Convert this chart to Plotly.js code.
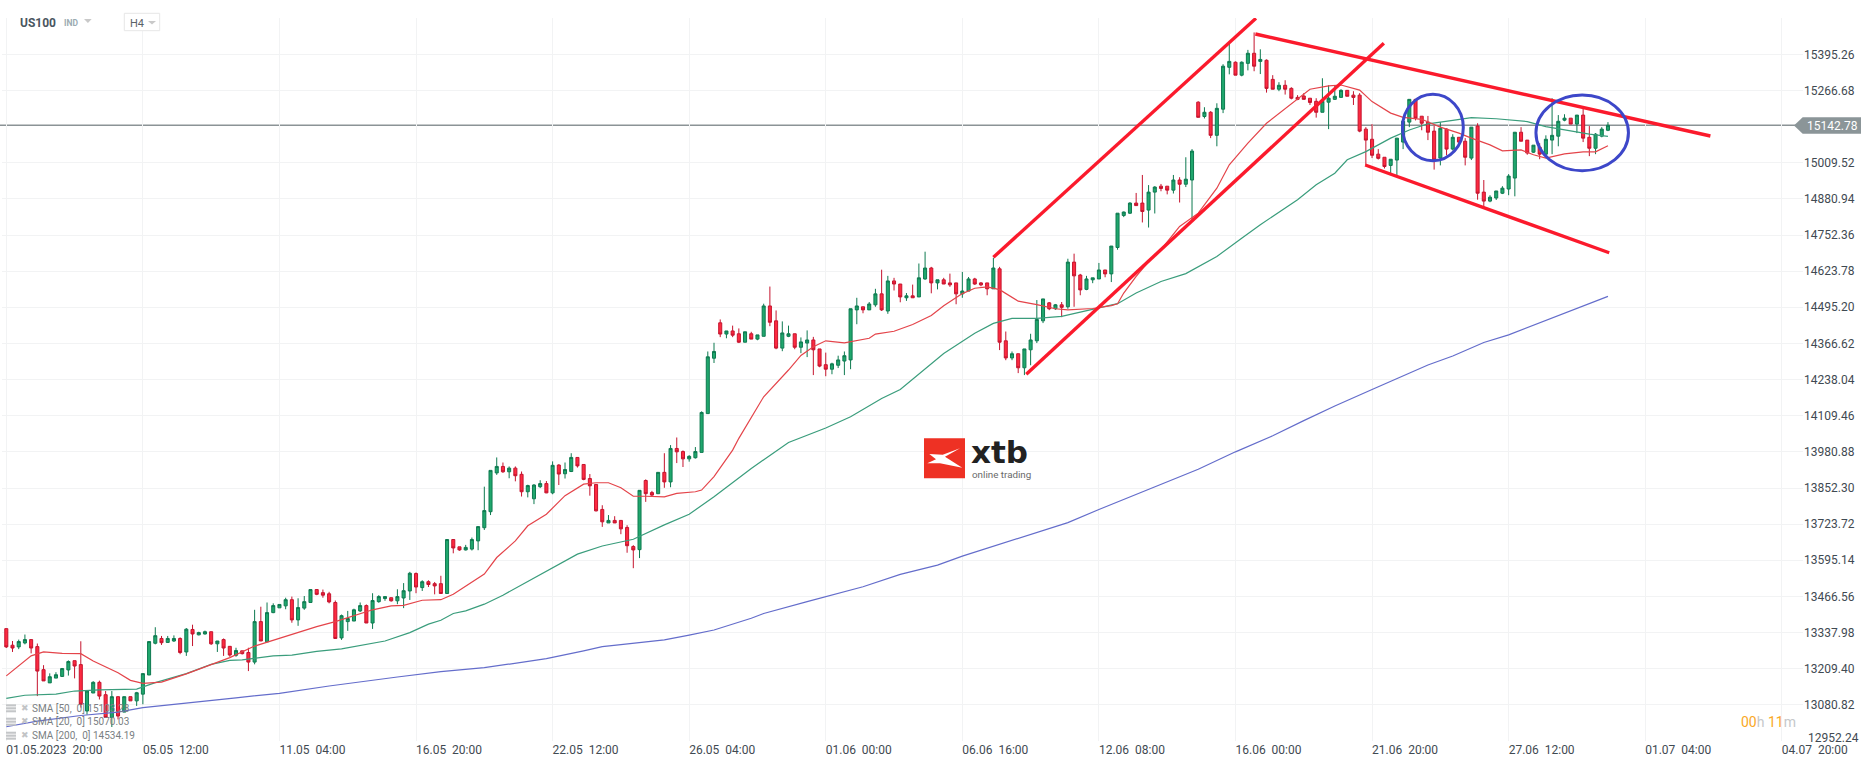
<!DOCTYPE html>
<html>
<head>
<meta charset="utf-8">
<script src="https://cdn.plot.ly/plotly-3.0.1.min.js"></script>
<style>html,body{margin:0;padding:0;background:#fff}#chart{width:1866px;height:767px}</style>
</head>
<body>
<div id="chart"></div>
<script>
const openPrices = [
13352,13293,13287,13301,13313,13288,13206,13159,13176,13182,
13205,13238,13224,13059,13123,13161,13117,13036,13110,13055,
13110,13095,13119,13187,13300,13317,13303,13308,13317,13269,
13349,13330,13333,13341,13298,13313,13289,13257,13273,13267,
13233,13377,13305,13409,13426,13433,13455,13383,13425,13445,
13491,13480,13476,13445,13319,13377,13379,13415,13434,13372,
13448,13459,13462,13451,13461,13486,13548,13498,13519,13512,
13512,13477,13669,13643,13632,13635,13664,13711,13768,13906,
13929,13910,13923,13901,13839,13814,13857,13868,13835,13934,
13903,13911,13961,13936,13886,13865,13776,13728,13737,13737,
13712,13644,13633,13879,13836,13832,13908,13874,13993,13982,
13956,13960,13979,14117,14314,14440,14400,14411,14401,14371,
14401,14382,14392,14500,14447,14350,14392,14401,14353,14368,
14379,14347,14291,14275,14289,14304,14308,14486,14497,14486,
14504,14543,14482,14589,14578,14529,14536,14532,14596,14635,
14582,14593,14582,14582,14543,14553,14596,14582,14582,14561,
14632,14376,14315,14330,14280,14344,14376,14447,14511,14490,
14504,14497,14656,14610,14559,14593,14596,14628,14614,14708,
14822,14830,14866,14866,14841,14905,14926,14926,14912,14948,
14933,14948,15225,15174,15189,15107,15200,15349,15367,15321,
15363,15399,15370,15374,15306,15271,15285,15274,15242,15247,
15239,15228,15189,15225,15235,15242,15267,15250,15250,15129,
15093,15040,15029,15000,15019,15083,15154,15235,15175,15154,
15122,15026,15129,15058,15100,15086,15026,15140,14905,14873,
14884,14901,14916,14955,15118,15090,15047,15065,15040,15090,
15104,15161,15168,15147,15179,15100,15061,15104,15125];
const highPrices = [
13352,13308,13313,13331,13313,13299,13222,13193,13197,13212,
13239,13238,13307,13130,13165,13167,13130,13130,13110,13110,
13110,13127,13192,13306,13357,13326,13326,13328,13321,13354,
13366,13341,13345,13341,13308,13317,13290,13284,13273,13284,
13419,13430,13445,13442,13438,13462,13466,13460,13468,13491,
13491,13491,13483,13452,13402,13415,13423,13445,13438,13478,
13471,13466,13462,13492,13514,13554,13552,13524,13524,13518,
13540,13669,13669,13643,13650,13676,13715,13857,13915,13961,
13943,13929,13929,13911,13864,13866,13880,13877,13947,13937,
13943,13976,13961,13936,13902,13865,13791,13756,13752,13737,
13720,13649,13844,13883,13842,13908,13976,14005,14032,13986,
13969,13998,14125,14338,14369,14452,14411,14430,14420,14408,
14408,14397,14508,14569,14484,14445,14430,14401,14388,14413,
14390,14347,14334,14298,14323,14338,14490,14529,14497,14514,
14561,14629,14607,14600,14578,14546,14576,14651,14693,14639,
14593,14600,14615,14582,14621,14603,14600,14585,14582,14671,
14639,14409,14338,14330,14347,14401,14521,14525,14514,14507,
14514,14668,14686,14614,14607,14600,14653,14628,14713,14830,
14836,14869,14902,14966,14930,14926,14934,14926,14966,14958,
15029,15058,15228,15207,15193,15221,15360,15434,15370,15370,
15411,15473,15413,15377,15321,15296,15303,15278,15250,15257,
15239,15239,15310,15285,15285,15271,15267,15264,15257,15136,
15147,15058,15029,15022,15097,15157,15235,15235,15175,15176,
15141,15154,15132,15111,15100,15097,15136,15150,14948,14894,
14909,14926,14969,15118,15136,15090,15072,15079,15107,15239,
15179,15182,15168,15179,15207,15140,15115,15136,15154];
const lowPrices = [
13283,13269,13279,13296,13264,13112,13166,13159,13176,13180,
13185,13175,13071,13046,13123,13100,13035,13002,13029,13055,
13095,13077,13083,13187,13296,13294,13302,13305,13261,13255,
13290,13328,13331,13294,13269,13255,13252,13252,13260,13201,
13225,13308,13305,13407,13426,13421,13373,13362,13419,13445,
13471,13462,13442,13317,13312,13344,13379,13411,13372,13351,
13444,13451,13448,13439,13425,13454,13478,13486,13500,13474,
13477,13477,13620,13629,13630,13630,13631,13703,13756,13899,
13906,13887,13876,13822,13819,13795,13852,13834,13830,13863,
13886,13909,13925,13880,13825,13769,13714,13728,13728,13688,
13622,13567,13603,13803,13822,13832,13853,13855,13941,13927,
13946,13957,13979,14117,14297,14389,14385,14389,14368,14371,
14382,14378,14392,14428,14346,14339,14389,14346,14332,14318,
14254,14282,14250,14257,14279,14254,14275,14435,14474,14486,
14497,14482,14472,14555,14513,14518,14529,14532,14593,14545,
14559,14578,14568,14506,14529,14553,14575,14570,14538,14561,
14343,14307,14307,14261,14254,14289,14368,14439,14485,14486,
14460,14490,14497,14538,14556,14581,14596,14602,14585,14700,
14816,14827,14857,14797,14779,14829,14908,14897,14900,14868,
14923,14807,15171,15167,15097,15068,15186,15324,15321,15317,
15338,15335,15325,15259,15271,15264,15252,15235,15232,15235,
15215,15170,15189,15129,15233,15242,15246,15215,15118,15001,
15026,15021,14989,14972,14965,15058,15136,15160,15125,15090,
14985,15000,15036,15053,15079,15000,15019,14878,14853,14869,
14877,14898,14894,14890,15086,15038,15044,15022,15036,15040,
15068,15157,15147,15115,15083,15033,15040,15100,15122];
const closePrices = [
13287,13283,13306,13313,13283,13201,13166,13181,13188,13210,
13235,13219,13083,13130,13161,13112,13036,13110,13041,13110,
13095,13124,13192,13306,13327,13302,13317,13317,13267,13350,
13333,13338,13341,13298,13308,13283,13258,13274,13263,13233,
13377,13308,13409,13434,13438,13455,13383,13427,13448,13491,
13474,13471,13447,13317,13398,13388,13419,13434,13372,13452,
13466,13466,13451,13466,13487,13549,13500,13519,13509,13504,
13477,13669,13639,13632,13641,13669,13715,13772,13915,13929,
13910,13923,13896,13839,13861,13863,13868,13835,13933,13902,
13918,13961,13931,13883,13860,13771,13732,13737,13728,13707,
13647,13632,13844,13832,13827,13908,13874,13993,13981,13956,
13965,13982,14121,14319,14338,14400,14411,14396,14371,14408,
14382,14397,14500,14442,14350,14404,14401,14353,14372,14379,
14344,14286,14275,14294,14308,14323,14490,14500,14486,14507,
14543,14486,14589,14578,14532,14536,14529,14600,14635,14582,
14593,14578,14575,14543,14553,14596,14578,14575,14561,14635,
14371,14315,14330,14280,14347,14379,14452,14525,14490,14504,
14495,14656,14607,14557,14596,14600,14628,14614,14713,14830,
14834,14866,14857,14836,14905,14923,14918,14912,14948,14933,
14951,15051,15171,15189,15107,15203,15353,15370,15321,15367,
15399,15353,15377,15274,15271,15285,15271,15239,15235,15235,
15224,15189,15228,15239,15246,15267,15246,15242,15122,15090,
15036,15025,14996,15022,15097,15157,15235,15168,15150,15118,
15019,15132,15058,15100,15083,15029,15136,14901,14873,14887,
14909,14919,14962,15118,15086,15044,15072,15040,15093,15107,
15157,15168,15147,15179,15097,15061,15111,15129,15142.78];

const sma20Bars = [0,4,6,9,12,14,18,20,22,25,29,32,36,40,44,46,50,53,56,59,62,64,67,70,72,74,77,79,82,84,87,90,93,95,97,99,101,103,106,108,111,112,114,117,118,122,126,128,130,132,135,139,140,143,146,149,151,154,156,158,160,163,166,169,171,175,178,179,180,182,184,186,189,192,195,197,200,203,206,208,210,213,215,218,220,223,225,228,231,234,236,239,241,244,246,248,251,254,256,258];
const sma20Values = [13184,13255,13269,13264,13263,13237,13195,13168,13157,13162,13191,13217,13249,13290,13317,13333,13359,13377,13397,13419,13433,13435,13453,13455,13474,13504,13546,13605,13664,13718,13759,13825,13866,13871,13871,13853,13823,13823,13821,13833,13839,13845,13893,13987,14029,14177,14272,14324,14355,14376,14369,14385,14400,14410,14434,14466,14501,14544,14563,14568,14558,14517,14505,14490,14486,14491,14501,14508,14546,14605,14658,14700,14783,14830,14919,15002,15079,15150,15203,15239,15271,15283,15286,15268,15227,15186,15171,15164,15136,15115,15097,15073,15052,15055,15038,15026,15041,15048,15048,15070.03];
const sma50Bars = [0,3,8,11,15,21,24,29,33,36,38,43,46,50,54,57,61,65,68,70,72,74,77,80,82,85,88,90,92,96,101,106,110,114,117,120,126,132,136,141,144,147,151,156,159,162,166,170,175,179,182,186,190,195,199,202,208,211,214,216,219,223,226,229,233,236,240,243,245,248,251,255,258];
const sma50Values = [13104,13115,13119,13130,13134,13137,13160,13192,13225,13239,13241,13255,13258,13271,13280,13293,13308,13338,13368,13382,13406,13415,13439,13471,13495,13531,13569,13593,13617,13646,13670,13721,13759,13821,13871,13922,14014,14066,14106,14171,14203,14258,14331,14403,14438,14456,14456,14463,14487,14508,14546,14587,14615,14676,14741,14789,14878,14931,14972,15020,15049,15097,15126,15148,15160,15170,15166,15160,15156,15138,15126,15111,15103.28];
const sma200Bars = [0,5,12,18,22,30,37,44,52,63,70,77,87,93,96,99,106,110,114,120,122,129,132,138,144,150,154,163,171,176,181,186,192,198,204,209,214,220,224,229,233,238,242,246,251,256,258];
const sma200Values = [13003,13023,13043,13055,13071,13091,13106,13122,13148,13180,13199,13213,13245,13273,13288,13295,13312,13329,13347,13389,13406,13448,13466,13501,13545,13578,13610,13673,13729,13776,13820,13865,13919,13981,14038,14092,14144,14203,14242,14290,14322,14370,14397,14432,14474,14519,14534.19];

const channelUpperBars = [159.0,201.3];   const channelUpperPrices = [14673,15523.3];
const channelLowerBars = [164.3,221.9];   const channelLowerPrices = [14256.7,15434.3];
const fallingUpperBars = [201.2,274.5];   const fallingUpperPrices = [15467.4,15104.6];
const fallingLowerBars = [218.9,258.2];   const fallingLowerPrices = [15001.4,14689.3];

const xTickBars = [0,22,44,66,88,110,132,154,176,198,220,242,264,286];
const xTickLabels = ['01.05.2023\u00a0\u00a020:00','05.05\u00a0\u00a012:00','11.05\u00a0\u00a004:00','16.05\u00a0\u00a020:00','22.05\u00a0\u00a012:00','26.05\u00a0\u00a004:00','01.06\u00a0\u00a000:00','06.06\u00a0\u00a016:00','12.06\u00a0\u00a008:00','16.06\u00a0\u00a000:00','21.06\u00a0\u00a020:00','27.06\u00a0\u00a012:00','01.07\u00a0\u00a004:00','04.07\u00a0\u00a020:00'];
const yTickValues = [15395.26,15266.68,15009.52,14880.94,14752.36,14623.78,14495.20,14366.62,14238.04,14109.46,13980.88,13852.30,13723.72,13595.14,13466.56,13337.98,13209.40,13080.82,12952.24];
const yTickLabels = ['15395.26','15266.68','15009.52','14880.94','14752.36','14623.78','14495.20','14366.62','14238.04','14109.46','13980.88','13852.30','13723.72','13595.14','13466.56','13337.98','13209.40','13080.82',''];
const currentPrice = 15142.78;
const legendLabels = ['SMA [50,\u00a0 0] 15103.28','SMA [20,\u00a0 0] 15070.03','SMA [200,\u00a0 0] 14534.19'];

const W = 1866, H = 767, L = 2, R = 1803, T = 18, B = 741;
const bar0Px = 6.3, barStepPx = 6.208;
const fx = p => (p - L) / (R - L);
const fy = p => (B - p) / (B - T);
const poly = pts => pts.map((q, i) => (i ? 'L' : 'M') + fx(q[0]).toFixed(5) + ',' + fy(q[1]).toFixed(5)).join(' ') + ' Z';
const fontName = 'Roboto, sans-serif';

const traces = [
  {type:'candlestick', x: openPrices.map((_, i) => i), open: openPrices, high: highPrices, low: lowPrices, close: closePrices,
   increasing:{line:{color:'#0e7a50', width:1}, fillcolor:'#20a76d'},
   decreasing:{line:{color:'#c5142e', width:1}, fillcolor:'#fd2a40'},
   whiskerwidth:0, hoverinfo:'skip', showlegend:false},
  {type:'scatter', mode:'lines', x: sma200Bars, y: sma200Values, line:{color:'#646dcb', width:1.2}, hoverinfo:'skip', showlegend:false},
  {type:'scatter', mode:'lines', x: sma50Bars, y: sma50Values, line:{color:'#3a9d7c', width:1.2}, hoverinfo:'skip', showlegend:false},
  {type:'scatter', mode:'lines', x: sma20Bars, y: sma20Values, line:{color:'#e4444a', width:1.2}, hoverinfo:'skip', showlegend:false}
];
[[channelUpperBars,channelUpperPrices],[channelLowerBars,channelLowerPrices],[fallingUpperBars,fallingUpperPrices],[fallingLowerBars,fallingLowerPrices]].forEach(t => {
  traces.push({type:'scatter', mode:'lines', x:t[0], y:t[1], line:{color:'#fb1a2c', width:3.4}, hoverinfo:'skip', showlegend:false});
});

const shapes = [
  {type:'rect', layer:'between', xref:'paper', yref:'paper', x0:fx(912), x1:fx(1040), y0:fy(485), y1:fy(430), fillcolor:'#fff', line:{width:0}},
  {type:'line', layer:'between', xref:'paper', yref:'y', x0:fx(0), x1:fx(1796), y0:currentPrice, y1:currentPrice, line:{color:'#8b9396', width:1.3}},
  {type:'path', layer:'above', xref:'paper', yref:'paper', path:poly([[1794,125.4],[1802.7,117.3],[1861,117.3],[1861,133.7],[1802.7,133.7]]), fillcolor:'#8b9598', line:{width:0}},
  {type:'circle', layer:'above', xref:'x', yref:'y', x0:224.9, x1:234.7, y0:15016.7, y1:15252.9, line:{color:'#3d47c9', width:3}},
  {type:'circle', layer:'above', xref:'x', yref:'y', x0:246.4, x1:261.3, y0:14981.1, y1:15250.4, line:{color:'#3d47c9', width:3}},
  // logo
  {type:'rect', layer:'above', xref:'paper', yref:'paper', x0:fx(924), x1:fx(965), y0:fy(478.3), y1:fy(438.3), fillcolor:'#ee3124', line:{width:0}},
  {type:'path', layer:'above', xref:'paper', yref:'paper', path:poly([[960,448.3],[945,456.7],[962.3,467.7],[940,463.3],[927.3,463.3],[936,459.3],[929.3,454],[942.7,454.7]]), fillcolor:'#fff', line:{width:0}},
  // header chrome
  {type:'path', layer:'above', xref:'paper', yref:'paper', path:poly([[84,19],[91.7,19],[87.9,23]]), fillcolor:'#c9c9c9', line:{width:0}},
  {type:'rect', layer:'above', xref:'paper', yref:'paper', x0:fx(124.3), x1:fx(159.7), y0:fy(30.7), y1:fy(13.3), fillcolor:'#fff', line:{color:'#e7e7e7', width:1}},
  {type:'path', layer:'above', xref:'paper', yref:'paper', path:poly([[148,21],[156,21],[152,24.5]]), fillcolor:'#c9c9c9', line:{width:0}}
];
// legend icons
[708.3, 721.7, 735.7].forEach(cy => {
  shapes.push({type:'rect', layer:'above', xref:'paper', yref:'paper', x0:fx(6), x1:fx(16), y0:fy(cy+4), y1:fy(cy-4), fillcolor:'#c4c6c8', line:{width:0}});
  [cy-1.5, cy+1.5].forEach(ly => shapes.push({type:'line', layer:'above', xref:'paper', yref:'paper', x0:fx(6), x1:fx(16), y0:fy(ly), y1:fy(ly), line:{color:'#f5f5f5', width:1}}));
});

const ann = (x, y, text, size, color, extra) => Object.assign({xref:'paper', yref:'paper', x:fx(x), y:fy(y), text, showarrow:false, xanchor:'left', yanchor:'middle', borderpad:0, font:{family:fontName, size, color}}, extra||{});
const annotations = [
  ann(18.5, 23.3, '<b>US100</b>', 12, '#4a5660'),
  ann(63, 23.5, '<b>IND</b>', 8.5, '#9cabb1'),
  ann(129, 23.5, 'H4', 11, '#5a6268'),
  ann(1805.5, 126, '15142.78', 12, '#ffffff'),
  ann(1807, 737.7, '12952.24', 12, '#3f4a52'),
  ann(1797, 722.3, '<span style="color:#f9a826">00</span>h <span style="color:#f9a826">11</span>m', 14, '#c5c8ca', {xanchor:'right'}),
  ann(970.5, 451.5, '<b>xtb</b>', 31, '#222222', {font:{family:'DejaVu Sans, sans-serif', size:31, color:'#222222'}}),
  ann(971, 474.5, 'online trading', 9.8, '#6a6a6a')
];
legendLabels.forEach((t, i) => {
  const cy = [708.3, 721.7, 735.7][i];
  annotations.push(ann(31, cy, t, 10, '#7b7f83'));
  annotations.push(ann(19.5, cy-0.5, '\u2716', 9, '#c2c4c6', {font:{family:'DejaVu Sans', size:9, color:'#c2c4c6'}}));
});

const layout = {
  width:W, height:H, autosize:false, paper_bgcolor:'#fff', plot_bgcolor:'#fff',
  margin:{l:L, r:W-R, t:T, b:H-B, pad:0}, showlegend:false, dragmode:false,
  font:{family:fontName, size:12, color:'#3f4a52'},
  xaxis:{type:'linear', range:[(L-bar0Px)/barStepPx, (R-bar0Px)/barStepPx], rangeslider:{visible:false},
    tickmode:'array', tickvals:xTickBars, ticktext:xTickLabels, ticks:'', showline:false, zeroline:false,
    showgrid:true, gridcolor:'#f2f3f4', gridwidth:1, ticklabelposition:'outside right', automargin:false,
    tickfont:{family:fontName, size:12, color:'#3f4a52'}},
  yaxis:{type:'linear', side:'right', range:[12952.24, 15524.4], tickmode:'array', tickvals:yTickValues, ticktext:yTickLabels,
    ticks:'', showline:false, zeroline:false, showgrid:true, gridcolor:'#f2f3f4', gridwidth:1, automargin:false,
    tickfont:{family:fontName, size:12, color:'#3f4a52'}},
  shapes, annotations
};
Plotly.newPlot('chart', traces, layout, {displayModeBar:false, staticPlot:true});
</script>
</body>
</html>
